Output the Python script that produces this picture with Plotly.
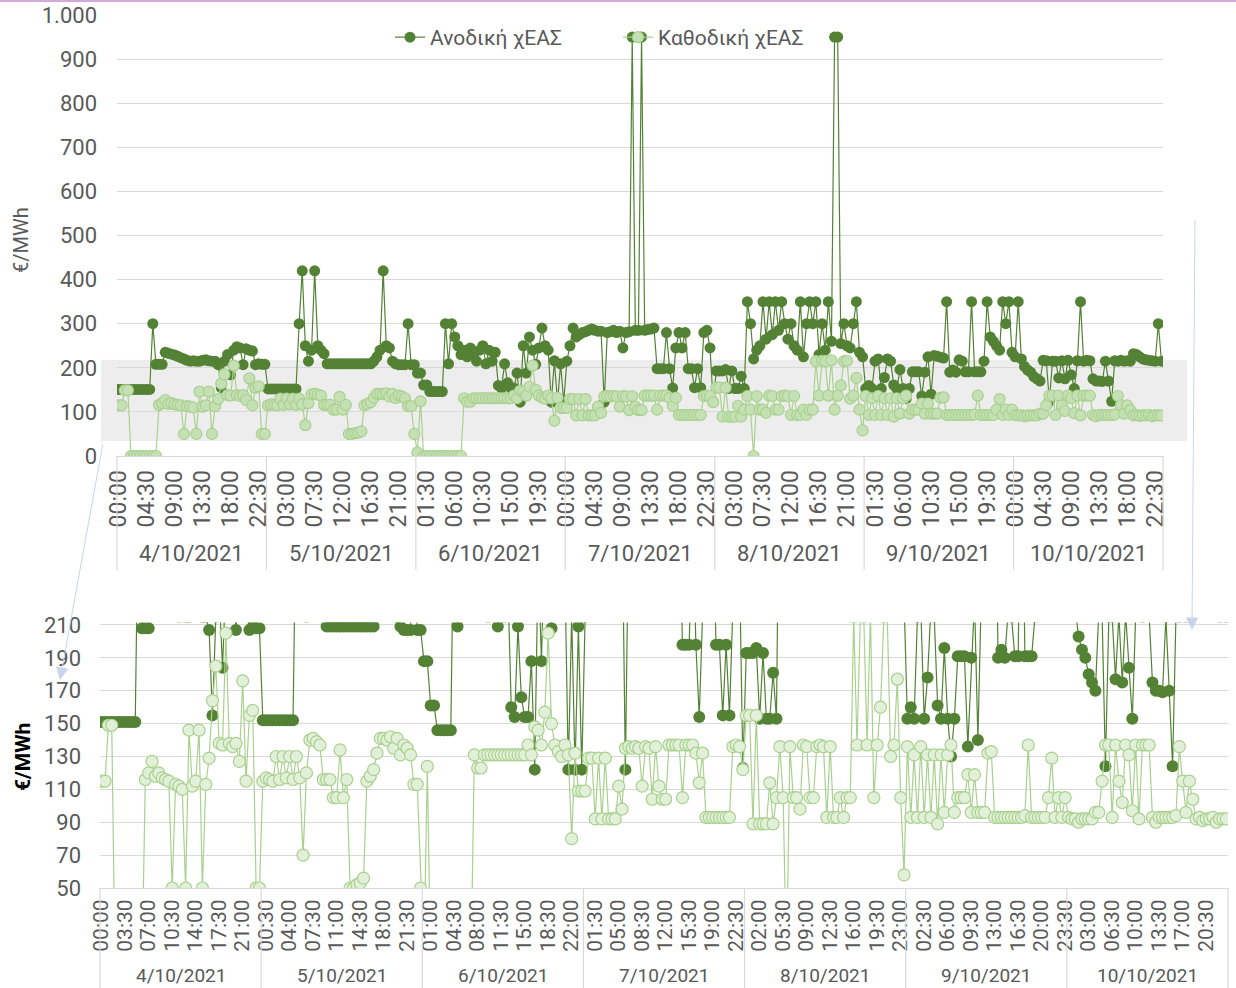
import plotly.graph_objects as go

# ---------------- data ----------------
dates = ["4/10/2021", "5/10/2021", "6/10/2021", "7/10/2021",
         "8/10/2021", "9/10/2021", "10/10/2021"]
times = ["00:00", "00:30", "01:00", "01:30", "02:00", "02:30", "03:00", "03:30",
         "04:00", "04:30", "05:00", "05:30", "06:00", "06:30", "07:00", "07:30",
         "08:00", "08:30", "09:00", "09:30", "10:00", "10:30", "11:00", "11:30",
         "12:00", "12:30", "13:00", "13:30", "14:00", "14:30", "15:00", "15:30",
         "16:00", "16:30", "17:00", "17:30", "18:00", "18:30", "19:00", "19:30",
         "20:00", "20:30", "21:00", "21:30", "22:00", "22:30", "23:00", "23:30"]

# Ανοδική χΕΑΣ (€/MWh), half-hourly, 4/10 .. 10/10
anodiki = [
    # 4/10
    151, 151, 151, 151, 151, 151, 151, 151, 151, 151, 151, 300,
    208, 208, 208, 235, 233, 231, 229, 226, 223, 220, 217, 215,
    216, 215, 215, 217, 218, 216, 215, 215, 207, 155, 215, 230,
    184, 240, 248, 245, 207, 243, 240, 238, 207, 209, 208, 208,
    # 5/10
    152, 152, 152, 152, 152, 152, 152, 152, 152, 152, 300, 420,
    250, 215, 240, 420, 250, 240, 232, 209, 209, 209, 209, 209,
    209, 209, 209, 209, 209, 209, 209, 209, 209, 209, 215, 225,
    240, 420, 250, 245, 215, 209, 207, 207, 207, 300, 207, 207,
    # 6/10
    188, 188, 161, 161, 146, 146, 146, 146, 146, 300, 209, 300,
    270, 250, 230, 240, 225, 245, 230, 215, 240, 250, 209, 240,
    215, 235, 160, 154, 209, 166, 154, 154, 188, 122, 250, 188,
    270, 240, 208, 245, 290, 250, 240, 122, 216, 122, 209, 122,
    # 7/10
    215, 250, 290, 270, 275, 280, 282, 285, 288, 285, 283, 283,
    122, 280, 282, 285, 280, 283, 245, 280, 282, 950, 285, 285,
    950, 285, 287, 288, 290, 198, 198, 198, 280, 198, 154, 245,
    280, 245, 280, 198, 198, 155, 198, 155, 280, 285, 245, 123,
    # 8/10
    193, 193, 193, 196, 153, 193, 153, 153, 181, 153, 350, 300,
    220, 240, 250, 350, 265, 350, 275, 350, 285, 350, 300, 265,
    300, 250, 240, 350, 225, 300, 350, 300, 350, 230, 300, 240,
    350, 260, 950, 950, 255, 300, 250, 245, 300, 350, 235, 225,
    # 9/10
    153, 160, 153, 215, 220, 153, 178, 220, 215, 161, 153, 196,
    153, 130, 153, 191, 191, 191, 136, 190, 225, 140, 228, 226,
    224, 222, 350, 190, 195, 190, 218, 215, 191, 191, 350, 191,
    191, 191, 215, 350, 270, 260, 250, 240, 350, 300, 350, 235,
    # 10/10
    225, 350, 220, 203, 195, 190, 180, 175, 170, 217, 216, 124,
    215, 215, 177, 216, 175, 217, 184, 153, 216, 350, 215, 217,
    216, 175, 170, 170, 169, 215, 170, 124, 216, 215, 217, 215,
    216, 215, 232, 230, 225, 220, 218, 217, 216, 215, 300, 215,
]

# Καθοδική χΕΑΣ (€/MWh)
kathodiki = [
    # 4/10
    115, 115, 149, 149, 0, 0, 0, 0, 0, 0, 0, 0,
    0, 116, 120, 127, 118, 120, 117, 116, 115, 50, 113, 112,
    110, 50, 146, 112, 115, 146, 50, 113, 129, 164, 185, 138,
    137, 205, 138, 136, 138, 127, 176, 115, 155, 158, 50, 50,
    # 5/10
    115, 117, 116, 115, 130, 116, 130, 117, 130, 116, 130, 117,
    70, 120, 140, 141, 139, 137, 116, 116, 116, 105, 105, 134,
    105, 116, 50, 50, 52, 53, 56, 115, 118, 122, 132, 141,
    141, 140, 142, 135, 141, 131, 137, 135, 131, 113, 113, 50,
    # 6/10
    8, 124, 0, 0, 0, 0, 0, 0, 0, 0, 0, 0,
    0, 0, 0, 131, 123, 123, 131, 131, 131, 131, 131, 131,
    131, 131, 131, 131, 131, 131, 131, 137, 131, 148, 146, 137,
    157, 205, 150, 137, 133, 130, 137, 131, 80, 132, 109, 109,
    # 7/10
    109, 129, 129, 92, 129, 92, 129, 92, 92, 92, 112, 98,
    135, 136, 135, 136, 135, 112, 136, 135, 104, 136, 112, 104,
    104, 137, 137, 137, 137, 105, 137, 137, 137, 132, 114, 132,
    93, 93, 93, 93, 93, 93, 93, 93, 136, 137, 136, 122,
    # 8/10
    155, 155, 89, 155, 89, 89, 89, 114, 89, 105, 136, 105,
    0, 136, 105, 105, 98, 137, 136, 105, 105, 136, 137, 136,
    93, 136, 93, 93, 105, 93, 105, 105, 215, 137, 216, 215,
    137, 217, 105, 137, 160, 215, 216, 130, 137, 177, 105, 58,
    # 9/10
    136, 93, 131, 93, 136, 93, 131, 93, 131, 89, 131, 96,
    131, 137, 96, 105, 105, 105, 119, 96, 119, 96, 96, 96,
    132, 133, 93, 93, 93, 93, 93, 93, 93, 93, 93, 94,
    137, 93, 93, 93, 93, 93, 105, 129, 93, 105, 93, 105,
    # 10/10
    93, 92, 92, 90, 92, 92, 92, 92, 96, 96, 115, 137,
    137, 93, 137, 115, 102, 137, 131, 97, 137, 92, 137, 137,
    137, 93, 90, 93, 93, 93, 93, 93, 94, 136, 115, 96,
    115, 104, 92, 93, 91, 92, 92, 93, 90, 92, 92, 92,
]

n_per_day = len(times)
idx = list(range(len(anodiki)))
time_of = [times[i % n_per_day] for i in idx]

DARK = "#548235"
LIGHT_LINE = "#A9D18E"
GRID = "#D9D9D9"
TXT = "#595959"
W, H = 1236, 988

fig = go.Figure()
for xa, ya, show, msize, fill in [("x", "y", True, 11, "#C5E0B4"),
                                  ("x2", "y2", False, 12, "#E2F0D9")]:
    fig.add_trace(go.Scatter(
        x=idx, y=anodiki, mode="lines+markers", name="Ανοδική χΕΑΣ",
        line=dict(color=DARK, width=1.2),
        marker=dict(color=DARK, size=msize),
        xaxis=xa, yaxis=ya, showlegend=show, hoverinfo="skip"))
    fig.add_trace(go.Scatter(
        x=idx, y=kathodiki, mode="lines+markers", name="Καθοδική χΕΑΣ",
        line=dict(color=LIGHT_LINE, width=1.2),
        marker=dict(color=fill, size=msize, line=dict(color=LIGHT_LINE, width=1.2)),
        xaxis=xa, yaxis=ya, showlegend=show, hoverinfo="skip"))

top_ticks = idx[::9]
bot_ticks = idx[::7]

fig.update_layout(
    width=W, height=H, margin=dict(l=0, r=0, t=0, b=0),
    template="none",
    paper_bgcolor="white", plot_bgcolor="rgba(0,0,0,0)",
    separators=",.",
    font=dict(family="Roboto", size=20, color=TXT),
    legend=dict(orientation="h", x=390 / W, y=1 - 17 / H, xanchor="left", yanchor="top",
                font=dict(size=21, color=TXT), bgcolor="rgba(0,0,0,0)",
                entrywidth=183, entrywidthmode="pixels"),
    xaxis=dict(domain=[117 / W, 1163 / W], anchor="y", range=[-0.5, len(idx) - 0.5],
               tickmode="array", tickvals=top_ticks,
               ticktext=[time_of[i] for i in top_ticks], tickangle=-90,
               tickfont=dict(size=23, color=TXT), ticks="", ticklabelstandoff=4,
               showgrid=False, zeroline=False, showline=True, linecolor=GRID, linewidth=1),
    yaxis=dict(domain=[1 - 456 / H, 1 - 15 / H], anchor="x", range=[0, 1000], dtick=100,
               tickformat=",d", tickfont=dict(size=22, color=TXT), ticks="",
               ticklabelstandoff=19, showgrid=True, gridcolor=GRID, gridwidth=1,
               zeroline=False, showline=False),
    xaxis2=dict(domain=[100 / W, 1228 / W], anchor="y2", range=[-0.5, len(idx) - 0.5],
                tickmode="array", tickvals=bot_ticks,
                ticktext=[time_of[i] for i in bot_ticks], tickangle=-90,
                tickfont=dict(size=21, color=TXT), ticks="", ticklabelstandoff=2,
                showgrid=False, zeroline=False, showline=True, linecolor=GRID, linewidth=1),
    yaxis2=dict(domain=[1 - 888 / H, 1 - 622.5 / H], anchor="x2", range=[50, 211.5],
                tick0=50, dtick=20, tickfont=dict(size=22, color=TXT), ticks="",
                ticklabelstandoff=18, showgrid=True, gridcolor=GRID, gridwidth=1,
                zeroline=False, showline=False),
)

shapes = []
# zoom window band on the upper chart
shapes.append(dict(type="rect", xref="x domain", yref="y",
                   x0=(101 - 117) / 1046, x1=(1187 - 117) / 1046, y0=34, y1=218,
                   fillcolor="#EDEDED", line=dict(width=0), layer="below"))
n_days = len(dates)
for k in range(n_days + 1):
    shapes.append(dict(type="line", xref="x domain", yref="y domain",
                       x0=k / n_days, x1=k / n_days, y0=0, y1=-0.258,
                       line=dict(color=GRID, width=1.2)))
    shapes.append(dict(type="line", xref="x2 domain", yref="y2 domain",
                       x0=k / n_days, x1=k / n_days, y0=0, y1=-0.40,
                       line=dict(color=GRID, width=1.2)))
# thin border line at the top of the page
shapes.append(dict(type="line", xref="paper", yref="paper", x0=0, x1=1,
                   y0=1 - 1 / H, y1=1 - 1 / H, line=dict(color="#D3A8DE", width=2)))
fig.update_layout(shapes=shapes)

ann = []
for k, d in enumerate(dates):
    ann.append(dict(text=d, xref="x", yref="y domain", x=k * n_per_day + (n_per_day - 1) / 2,
                    y=-0.22, xanchor="center", yanchor="middle", showarrow=False,
                    font=dict(size=22, color=TXT)))
    ann.append(dict(text=d, xref="x2", yref="y2 domain", x=k * n_per_day + (n_per_day - 1) / 2,
                    y=-0.331, xanchor="center", yanchor="middle", showarrow=False,
                    font=dict(size=19, color=TXT)))
ann.append(dict(text="€/MWh", xref="paper", yref="paper", x=21 / W, y=1 - 240 / H,
                xanchor="center", yanchor="middle",
                textangle=-90, showarrow=False, font=dict(size=20, color=TXT)))
ann.append(dict(text="<b>€/MWh</b>", xref="paper", yref="paper", x=23 / W, y=1 - 757 / H,
                xanchor="center", yanchor="middle",
                textangle=-90, showarrow=False, font=dict(size=21, color="black")))
# connector arrows from the zoom band to the lower chart
ann.append(dict(text="", xref="paper", yref="paper", x=60 / W, y=1 - 680 / H,
                ax=43, ay=-237, showarrow=True, arrowhead=2, arrowsize=2.5,
                arrowwidth=1, arrowcolor="#C9D4EA"))
ann.append(dict(text="", xref="paper", yref="paper", x=1192 / W, y=1 - 630 / H,
                ax=3, ay=-412, showarrow=True, arrowhead=2, arrowsize=2.5,
                arrowwidth=1, arrowcolor="#C9D4EA"))
fig.update_layout(annotations=ann)

fig.write_html("out.html", config={"displayModeBar": False},
               post_script="document.body.style.margin='0';")
